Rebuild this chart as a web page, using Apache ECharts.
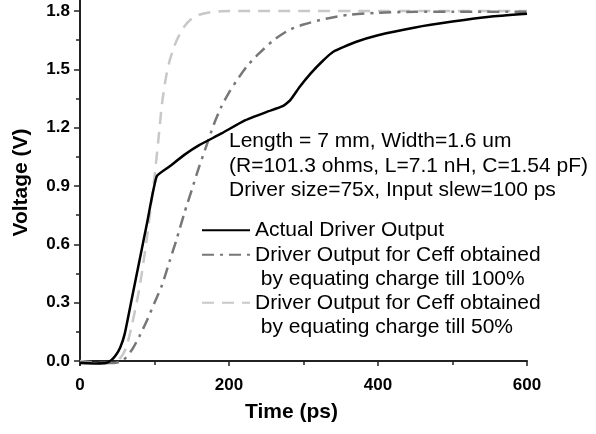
<!DOCTYPE html>
<html>
<head>
<meta charset="utf-8">
<script src="https://cdn.jsdelivr.net/npm/echarts@6/dist/echarts.min.js"></script>
<style>
  html, body { margin: 0; padding: 0; background: #fff; }
  #chart1 { width: 596px; height: 434px; }
</style>
</head>
<body>
<div id="chart1"></div>
<script>
// actual driver output
var tActual = [0, 20, 35, 42, 48, 54, 60, 70, 80, 90, 103, 120, 140, 160, 190, 220, 250, 272, 282, 295, 310, 325, 340, 370, 400, 450, 500, 550, 600];
var vActual = [-0.01, -0.012, -0.01, 0.005, 0.03, 0.07, 0.14, 0.33, 0.52, 0.71, 0.95, 1.0, 1.06, 1.11, 1.17, 1.235, 1.28, 1.31, 1.34, 1.41, 1.48, 1.54, 1.59, 1.64, 1.675, 1.715, 1.745, 1.77, 1.785];
// Ceff, charge till 100%
var tFull = [0, 30, 45, 58, 70, 80, 90, 100, 110, 120, 130, 140, 150, 160, 170, 180, 190, 200, 210, 225, 240, 260, 280, 300, 330, 360, 400, 450, 500, 600];
var vFull = [-0.005, -0.01, -0.01, 0.005, 0.06, 0.13, 0.21, 0.30, 0.39, 0.51, 0.63, 0.76, 0.88, 1.0, 1.11, 1.22, 1.31, 1.38, 1.44, 1.52, 1.58, 1.65, 1.70, 1.73, 1.76, 1.78, 1.79, 1.795, 1.795, 1.795];
// Ceff, charge till 50%
var tHalf = [0, 30, 45, 55, 62, 70, 80, 90, 100, 105, 110, 115, 120, 125, 130, 140, 150, 160, 175, 190, 220, 300, 400, 500, 600];
var vHalf = [0.0, -0.01, -0.005, 0.02, 0.07, 0.19, 0.38, 0.64, 0.95, 1.13, 1.32, 1.45, 1.54, 1.6, 1.65, 1.72, 1.76, 1.78, 1.793, 1.798, 1.8, 1.8, 1.8, 1.8, 1.8];

var yTicks = [0, 0.3, 0.6, 0.9, 1.2, 1.5, 1.8];
var yMinorTicks = [0.15, 0.45, 0.75, 1.05, 1.35, 1.65];

var names = [
    'Actual Driver Output',
    'Driver Output for Ceff obtained\n by equating charge till 100%',
    'Driver Output for Ceff obtained\n by equating charge till 50%'
];
var note = 'Length = 7 mm, Width=1.6 um\n(R=101.3 ohms, L=7.1 nH, C=1.54 pF)\nDriver size=75x, Input slew=100 ps';

function zip (xs, ys) {
    return xs.map(function (x, i) { return [x, ys[i]]; });
}

var font = '"Liberation Sans", Arial, sans-serif';

function legendFor (name, top) {
    return {
        data: [name],
        left: 201,
        top: top,
        padding: 0,
        itemWidth: 48,
        itemHeight: 14,
        selectedMode: false,
        itemStyle: { opacity: 0 },   // hide the round symbol, keep the line
        textStyle: { fontFamily: font, fontSize: 21, lineHeight: 24.5, color: '#000' },
        formatter: function (n) {
            // blank first line keeps the icon level with the first text line
            return n.indexOf('\n') >= 0 ? '\n' + n : n;
        }
    };
}

var myChart = echarts.init(document.getElementById('chart1'));
var option = {
    animation: false,
    grid: { left: 80, right: 69, top: 0, bottom: 69 },
    legend: [
        legendFor(names[0], 218),
        legendFor(names[1], 218),
        legendFor(names[2], 266)
    ],
    graphic: [{
        type: 'text',
        left: 229,
        top: 129,
        style: {
            text: note,
            font: '21px ' + font,
            lineHeight: 24.5,
            fill: '#000'
        }
    }],
    xAxis: {
        type: 'value',
        min: 0,
        max: 600,
        interval: 200,
        name: 'Time (ps)',
        nameLocation: 'middle',
        nameGap: 37,
        nameTextStyle: { fontFamily: font, fontSize: 21, fontWeight: 'bold', color: '#000', padding: [0, 24, 0, 0] },
        axisLine: { lineStyle: { color: '#222', width: 2 } },
        axisTick: { length: 5, lineStyle: { color: '#222', width: 1.5 } },
        minorTick: { show: true, splitNumber: 2, length: 4, lineStyle: { color: '#222', width: 1.5 } },
        axisLabel: { fontFamily: font, fontSize: 17, fontWeight: 'bold', color: '#000', margin: 12 },
        splitLine: { show: false }
    },
    yAxis: [{
        type: 'value',
        min: -0.02,
        max: 1.856,
        name: 'Voltage (V)',
        nameLocation: 'middle',
        nameGap: 48,
        nameTextStyle: { fontFamily: font, fontSize: 21, fontWeight: 'bold', color: '#000' },
        axisLine: { show: true, lineStyle: { color: '#222', width: 2 } },
        axisTick: { show: true, length: 6, customValues: yTicks, lineStyle: { color: '#222', width: 1.5 } },
        axisLabel: {
            customValues: yTicks,
            fontFamily: font, fontSize: 17, fontWeight: 'bold', color: '#000', margin: 10,
            formatter: function (v) { return v.toFixed(1); }
        },
        splitLine: { show: false }
    }, {
        // minor ticks only
        type: 'value',
        position: 'left',
        min: -0.02,
        max: 1.856,
        axisLine: { show: false },
        axisTick: { show: true, length: 4, customValues: yMinorTicks, lineStyle: { color: '#222', width: 1.5 } },
        axisLabel: { show: false, customValues: yMinorTicks },
        splitLine: { show: false }
    }],
    series: [{
        name: names[0],
        type: 'line',
        symbol: 'none',
        smooth: 0.15,
        data: zip(tActual, vActual),
        lineStyle: { color: '#000', width: 2.5 },
        itemStyle: { color: '#000' },
        z: 4
    }, {
        name: names[1],
        type: 'line',
        symbol: 'none',
        smooth: 0.25,
        data: zip(tFull, vFull),
        lineStyle: { color: '#777', width: 2.5, type: [12, 6, 3, 6] },
        itemStyle: { color: '#777' },
        z: 3
    }, {
        name: names[2],
        type: 'line',
        symbol: 'none',
        smooth: 0.25,
        data: zip(tHalf, vHalf),
        lineStyle: { color: '#c8c8c8', width: 2.5, type: [12, 8] },
        itemStyle: { color: '#c8c8c8' },
        z: 2
    }]
};
myChart.setOption(option);
window.onresize = myChart.resize;
</script>
</body>
</html>
